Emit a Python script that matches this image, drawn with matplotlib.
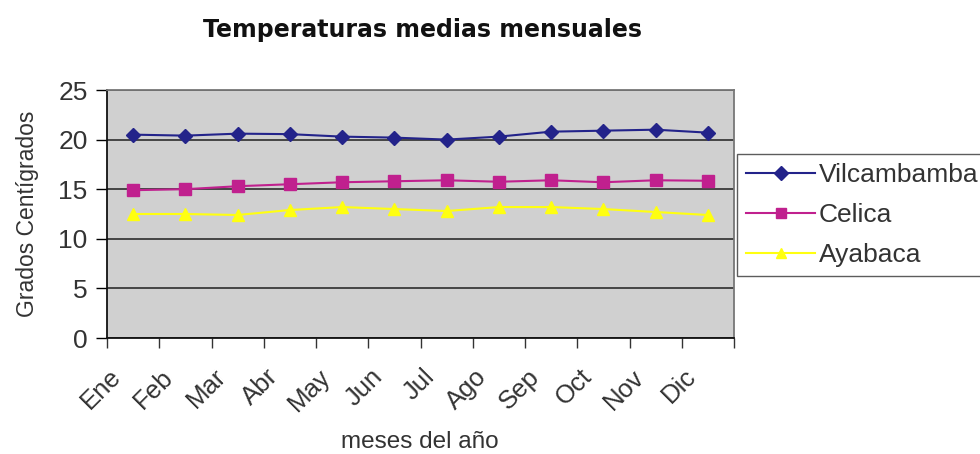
import matplotlib
matplotlib.use('Agg')
import matplotlib.pyplot as plt
import matplotlib.transforms as mtransforms
import numpy as np

plt.rcParams['font.family'] = ['Liberation Sans', 'DejaVu Sans']

meses = ['Ene', 'Feb', 'Mar', 'Abr', 'May', 'Jun', 'Jul', 'Ago', 'Sep', 'Oct', 'Nov', 'Dic']
vilcabamba = [20.5, 20.4, 20.6, 20.55, 20.3, 20.2, 20.0, 20.3, 20.8, 20.9, 21.0, 20.7]
celica = [14.9, 15.0, 15.3, 15.5, 15.7, 15.8, 15.9, 15.75, 15.9, 15.7, 15.9, 15.85]
ayabaca = [12.5, 12.5, 12.4, 12.9, 13.2, 13.0, 12.8, 13.2, 13.2, 13.0, 12.7, 12.4]

series = ['Vilcambamba', 'Celica', 'Ayabaca']
colors = ['#23238a', '#c0208e', '#ffff10']
markers = ['D', 's', '^']
msizes = [7, 9, 9]

fig = plt.figure(figsize=(9.8, 4.54), dpi=100)
ax = fig.add_axes([107/980, 1 - 338/454, (734-107)/980, (338-90)/454])
ax.set_facecolor('#d0d0d0')

x = np.arange(len(meses))
for i, vals in enumerate([vilcabamba, celica, ayabaca]):
    ax.plot(x, vals, color=colors[i], marker=markers[i], markersize=msizes[i],
            linewidth=1.5, label=series[i], zorder=3)

ax.set_xlim(-0.5, len(meses) - 0.5)
ax.set_ylim(0, 25)
ax.set_yticks([0, 5, 10, 15, 20, 25])
ax.yaxis.grid(True, color='#3a3a3a', linewidth=1.3)
ax.set_axisbelow(True)

ax.set_xticks(x)
ax.set_xticks(np.arange(-0.5, len(meses), 1), minor=True)
ax.tick_params(axis='x', which='major', length=0, pad=12)
ax.tick_params(axis='x', which='minor', length=7, width=1, direction='out', color='#333333')
ax.tick_params(axis='y', length=8, width=1, direction='out', labelsize=19, labelcolor='#333333', pad=6)
ax.set_xticklabels(meses, rotation=45, ha='right', rotation_mode='anchor', fontsize=18.5, color='#333333')
# shift month labels left/down like the original
offset = mtransforms.ScaledTranslation(-24/100, -10/100, fig.dpi_scale_trans)
for lbl in ax.get_xticklabels():
    lbl.set_transform(lbl.get_transform() + offset)

for s in ['left', 'bottom']:
    ax.spines[s].set_color('#111111')
    ax.spines[s].set_linewidth(1.3)
for s in ['top', 'right']:
    ax.spines[s].set_color('#777777')
    ax.spines[s].set_linewidth(1.3)

ax.set_ylabel('Grados Centígrados', fontsize=16.5, color='#333333', labelpad=14)
fig.text(420/980, 1 - 442/454, 'meses del año', ha='center', va='center', fontsize=17.5, color='#333333')
fig.text(422/980, 1 - 30/454, 'Temperaturas medias mensuales', ha='center', va='center',
         fontsize=17, fontweight='bold', color='#111111', family='DejaVu Sans')

leg = ax.legend(loc='upper left', bbox_to_anchor=(737/980, 1 - 154/454), bbox_transform=fig.transFigure,
                fontsize=19, frameon=True, fancybox=False, borderpad=0.35, handlelength=2.6,
                handletextpad=0.15, labelspacing=0.6, borderaxespad=0)
leg.get_frame().set_edgecolor('#333333')
leg.get_frame().set_linewidth(1.0)
for t in leg.get_texts():
    t.set_color('#333333')
for h in leg.get_lines():
    h.set_markersize(7)

fig.savefig('out.png', dpi=100)
